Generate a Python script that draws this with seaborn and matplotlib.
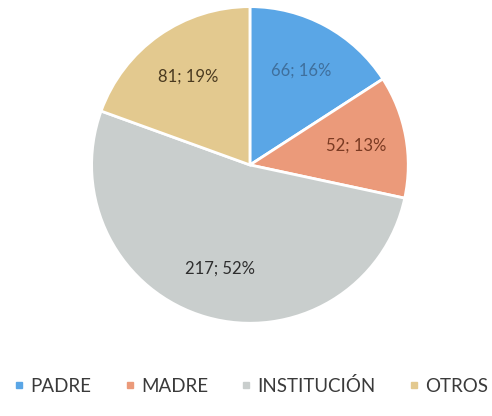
import matplotlib.pyplot as plt
from matplotlib.lines import Line2D
import seaborn as sns

categorias = ['PADRE', 'MADRE', 'INSTITUCIÓN', 'OTROS']
valores = [66, 52, 217, 81]
porcentajes = [16, 13, 52, 19]
colores = ['#5aa6e6', '#eb9a7a', '#c9cecd', '#e3c98f']
colores_texto = ['#3f6f9c', '#7a3a22', '#2e2e2e', '#4a3a20']

sns.set_theme(style="white")
plt.rcParams['font.family'] = ['Lato', 'DejaVu Sans']

fig = plt.figure(figsize=(4.92, 4.16), dpi=100)
ax = fig.add_axes([0.183, 0.219, 0.65, 0.769])

etiquetas = [f'{v}; {p}%' for v, p in zip(valores, porcentajes)]
wedges, textos = ax.pie(valores, colors=colores, startangle=90, counterclock=False,
                        labels=etiquetas, labeldistance=0.68,
                        wedgeprops=dict(edgecolor='white', linewidth=2))
for t, c in zip(textos, colores_texto):
    t.set_color(c)
    t.set_fontsize(12)
    t.set_horizontalalignment('center')
    t.set_verticalalignment('center')
ax.set_xlim(-1.01, 1.01)
ax.set_ylim(-1.01, 1.01)
ax.set_aspect('equal')

handles = [Line2D([], [], marker='s', linestyle='none', markersize=5, color=c) for c in colores]
fig.legend(handles, categorias, loc='center', bbox_to_anchor=(0.51, 1 - 386 / 416), ncol=4,
           frameon=False, fontsize=13.5, handlelength=0.6, handletextpad=0.3, columnspacing=1.75,
           labelcolor='#3a3a3a')

plt.savefig('out.png', dpi=100)
